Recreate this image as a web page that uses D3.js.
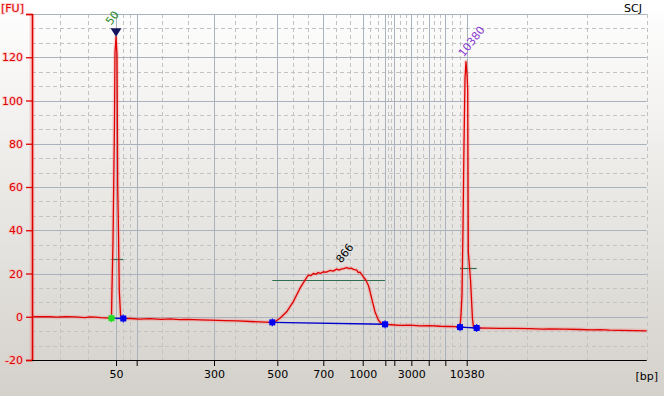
<!DOCTYPE html>
<html><head><meta charset="utf-8">
<script src="https://cdn.jsdelivr.net/npm/d3@7"></script>
<style>
html,body{margin:0;padding:0;background:#d4d0c8;}
svg{display:block;font-family:"DejaVu Sans",Verdana,sans-serif;}
</style></head>
<body>
<script>
// ---- data ----
const ladderBp   = [50, 100, 300, 500, 700, 1000, 1500, 2000, 3000, 5000, 7000, 10380];
const ladderTime = [33.67, 37.03, 49.61, 59.91, 67.39, 73.80, 77.48, 78.94, 81.71, 84.54, 87.24, 90.72];
const labeledBp  = [50, 300, 500, 700, 1000, 3000, 10380];
const timeDomain = [20, 120];
const fuDomain   = [-20, 140];
const yTicks     = [-20, 0, 20, 40, 60, 80, 100, 120, 140];

const traceTime = [20.0,21.5,22.9,24.0,25.5,27.0,28.6,29.4,30.3,31.2,31.9,32.69,32.93,33.01,33.18,33.42,33.50,33.67,33.83,33.94,34.04,34.20,34.40,34.56,34.85,
  36.0,37.5,39.2,41.0,42.5,44.0,45.2,47.3,49.0,51.4,53.5,55.5,57.9,59.09,59.7,60.34,61.43,62.51,63.60,64.41,64.95,65.35,65.76,66.2,66.53,67.0,67.39,67.9,68.48,69.0,69.57,70.0,70.27,70.7,71.20,71.6,71.89,72.3,72.82,73.1,73.36,73.89,74.3,74.71,75.0,75.26,75.80,76.34,76.78,77.43,
  78.5,79.87,81.5,83.12,84.7,86.37,88.0,88.81,89.63,89.79,89.95,90.11,90.28,90.44,90.60,90.77,90.88,90.98,91.09,91.34,91.50,91.66,91.82,92.34,
  94.0,96.13,98.5,101.0,103.0,104.27,106.5,109.15,111.0,112.4,114.0,115.65,118.0,120.0];
const traceFU = [0.0,0.1,0.0,-0.2,0.0,-0.1,-0.4,-0.1,-0.2,-0.4,-0.5,-0.6,-0.5,12.7,35,90,122,129.5,121,60,45,12,1,-0.5,-0.8,
  -0.8,-1.1,-0.9,-1.2,-1.0,-1.3,-1.2,-1.4,-1.6,-1.8,-1.9,-2.2,-2.5,-2.6,-2.0,-0.7,2.3,7.0,13.2,16.9,19.2,19.0,20.0,19.7,20.4,20.1,20.8,20.6,21.4,21.1,22.0,21.6,22.0,22.3,22.7,22.3,22.5,21.9,21.6,20.4,20.6,18.5,17.0,14.6,11.5,8.5,2.3,-1.5,-3.0,-3.5,
  -3.7,-4.0,-3.9,-4.2,-4.1,-4.4,-4.5,-4.6,-4.8,0.8,10,40,80,110,118,112,105,30,26,17,8,-1,-4.7,-5.2,
  -5.3,-5.4,-5.4,-5.5,-5.7,-5.6,-5.7,-5.9,-6.1,-6.0,-6.2,-6.3,-6.4,-6.5];

const peakNames    = ["50", "866", "10380"];
const peakTime     = [33.67, 70.94, 90.72];
const peakStart    = [32.93, 59.09, 89.63];
const peakEnd      = [34.85, 77.43, 92.34];
const peakStartFU  = [-0.7, -2.6, -4.8];
const peakEndFU    = [-0.8, -3.5, -5.2];
const peakLevelFU  = [26.6, 17.0, 22.7];
const peakColors   = ["#2a8a2a", "#000000", "#8a3ad0"];
const sampleName   = "SCJ";

// ---- layout ----
const W = 664, H = 396;
const m = {left: 32, right: 17.3, top: 14, bottom: 36};
const x = d3.scaleLinear().domain(timeDomain).range([m.left, W - m.right]);
const y = d3.scaleLinear().domain(fuDomain).range([H - m.bottom, m.top]);

const svg = d3.select("body").append("svg").attr("width", W).attr("height", H);
const defs = svg.append("defs");
const grad = defs.append("linearGradient").attr("id","bg").attr("x1",0).attr("y1",0).attr("x2",0).attr("y2",1);
grad.append("stop").attr("offset","0%").attr("stop-color","#ffffff");
grad.append("stop").attr("offset","100%").attr("stop-color","#d4d1cb");
svg.append("rect").attr("width",W).attr("height",H).attr("fill","url(#bg)");

const [x0, x1] = x.range();
const [yb, yt] = y.range();

// minor vertical grid (thirds between boundaries)
const bounds = [timeDomain[0], ...ladderTime, timeDomain[1]];
const minorT = [];
for (let i = 0; i < bounds.length - 1; i++) {
  const a = bounds[i], b = bounds[i+1];
  minorT.push(a + (b - a) / 3, a + 2 * (b - a) / 3);
}
minorT.push(timeDomain[1]);
const grid = svg.append("g");
grid.selectAll("line.mv").data(minorT).join("line")
  .attr("x1", d => Math.round(x(d)) + 0.5).attr("x2", d => Math.round(x(d)) + 0.5)
  .attr("y1", yt).attr("y2", yb)
  .attr("stroke", "#c3c3c3").attr("stroke-dasharray", "4,3");
// minor horizontal grid
const minorY = [];
for (let i = 0; i < yTicks.length - 1; i++) {
  const a = yTicks[i], b = yTicks[i+1];
  minorY.push(a + (b - a) / 3, a + 2 * (b - a) / 3);
}
grid.selectAll("line.mh").data(minorY).join("line")
  .attr("x1", x0).attr("x2", x1)
  .attr("y1", d => Math.round(y(d)) + 0.5).attr("y2", d => Math.round(y(d)) + 0.5)
  .attr("stroke", "#c3c3c3").attr("stroke-dasharray", "4,3");
// major grid
grid.selectAll("line.Mh").data(yTicks.slice(1)).join("line")
  .attr("x1", x0).attr("x2", x1)
  .attr("y1", d => Math.round(y(d)) + 0.5).attr("y2", d => Math.round(y(d)) + 0.5)
  .attr("stroke", "#aab2bd");
grid.selectAll("line.Mv").data(ladderTime).join("line")
  .attr("x1", d => Math.round(x(d)) + 0.5).attr("x2", d => Math.round(x(d)) + 0.5)
  .attr("y1", yt).attr("y2", yb)
  .attr("stroke", "#aab2bd");

// peak level lines
const pk = d3.range(peakNames.length);
svg.append("g").selectAll("line").data(pk).join("line")
  .attr("x1", i => x(peakStart[i])).attr("x2", i => x(peakEnd[i]))
  .attr("y1", i => Math.round(y(peakLevelFU[i])) + 0.5).attr("y2", i => Math.round(y(peakLevelFU[i])) + 0.5)
  .attr("stroke", "#2f6e4e").attr("stroke-width", 1.2);

// trace
const pts = traceTime.map((t, i) => [t, traceFU[i]]);
const line = d3.line().x(d => x(d[0])).y(d => y(d[1]));
svg.append("path").attr("d", line(pts)).attr("fill","none")
  .attr("stroke","rgba(255,90,90,0.22)").attr("stroke-width",4).attr("stroke-linejoin","round");
svg.append("path").attr("d", line(pts)).attr("fill","none")
  .attr("stroke","#e00000").attr("stroke-width",1.3).attr("stroke-linejoin","round");

// baselines
const bl = svg.append("g");
bl.selectAll("line").data(pk).join("line")
  .attr("x1", i => x(peakStart[i])).attr("x2", i => x(peakEnd[i]))
  .attr("y1", i => y(peakStartFU[i])).attr("y2", i => y(peakEndFU[i]))
  .attr("stroke", "#0000cc").attr("stroke-width", 1.4);
const dots = [];
pk.forEach(i => {
  dots.push({t: peakStart[i], v: peakStartFU[i], c: i === 0 ? "#22dd22" : "#0000ee"});
  dots.push({t: peakEnd[i], v: peakEndFU[i], c: "#0000ee"});
});
bl.selectAll("rect").data(dots).join("rect")
  .attr("x", d => x(d.t) - 3).attr("y", d => y(d.v) - 3)
  .attr("width", 6).attr("height", 6).attr("fill", d => d.c);
bl.selectAll("path").data(dots).join("path")
  .attr("d", d => `M${x(d.t)-4},${y(d.v)}h8M${x(d.t)},${y(d.v)-4}v8`)
  .attr("stroke", d => d.c).attr("stroke-width", 1);

// peak tops & labels
const topFU = pk.map(i => d3.max(pts.filter(p => p[0] >= peakStart[i] && p[0] <= peakEnd[i]), p => p[1]));
// marker triangle on lower marker
{
  const i = 0, px = x(peakTime[i]), py = y(topFU[i]);
  svg.append("path").attr("d", `M${px-5.5},${py-8.5}L${px+5.5},${py-8.5}L${px},${py}Z`).attr("fill","#14145e");
}
const offs = [[-5, -11], [-4, -4], [-3, -4]];
svg.append("g").selectAll("text").data(pk).join("text")
  .attr("transform", i => `translate(${x(peakTime[i]) + offs[i][0]},${y(topFU[i]) + offs[i][1]}) rotate(-52)`)
  .attr("font-size", 11).attr("fill", i => peakColors[i])
  .text(i => peakNames[i]);

// y axis
const yAxis = svg.append("g").attr("transform", `translate(${x0},0)`)
  .call(d3.axisLeft(y).tickValues(yTicks).tickSize(6).tickPadding(3).tickFormat(d => d === 140 ? "" : d));
yAxis.select(".domain").attr("stroke", "#dd0000").attr("stroke-width", 1.6);
yAxis.selectAll(".tick line").attr("stroke", "#dd0000").attr("stroke-width", 1.3);
yAxis.selectAll("text").attr("fill", "#dd0000").attr("font-size", 11)
  .attr("font-family", "DejaVu Sans, sans-serif")
  .style("paint-order", "stroke").attr("stroke", "rgba(255,170,170,0.45)").attr("stroke-width", 2);
yAxis.insert("line", ":first-child").attr("x1",0).attr("x2",0).attr("y1",yt).attr("y2",yb)
  .attr("stroke","rgba(255,120,120,0.3)").attr("stroke-width",5);
svg.append("text").attr("x", 1).attr("y", 12).attr("font-size", 11).attr("fill", "#dd0000")
  .style("paint-order", "stroke").attr("stroke", "rgba(255,170,170,0.45)").attr("stroke-width", 2)
  .text("[FU]");

// x axis
const xAxis = svg.append("g").attr("transform", `translate(0,${yb})`)
  .call(d3.axisBottom(x).tickValues(ladderTime).tickSize(6).tickPadding(4)
    .tickFormat((d, i) => labeledBp.includes(ladderBp[i]) ? ladderBp[i] : ""));
xAxis.select(".domain").attr("stroke", "#000").attr("stroke-width", 1.2).attr("d", `M${x0},0.5H${x1}`);
xAxis.selectAll(".tick line").attr("stroke", "#000");
xAxis.selectAll("text").attr("fill", "#000").attr("font-size", 11).attr("font-family", "DejaVu Sans, sans-serif");
svg.append("text").attr("x", 658).attr("y", 380).attr("text-anchor", "end").attr("font-size", 11).text("[bp]");

// sample name
svg.append("text").attr("x", 642).attr("y", 12).attr("text-anchor", "end").attr("font-size", 11).text(sampleName);
</script>
</body></html>
